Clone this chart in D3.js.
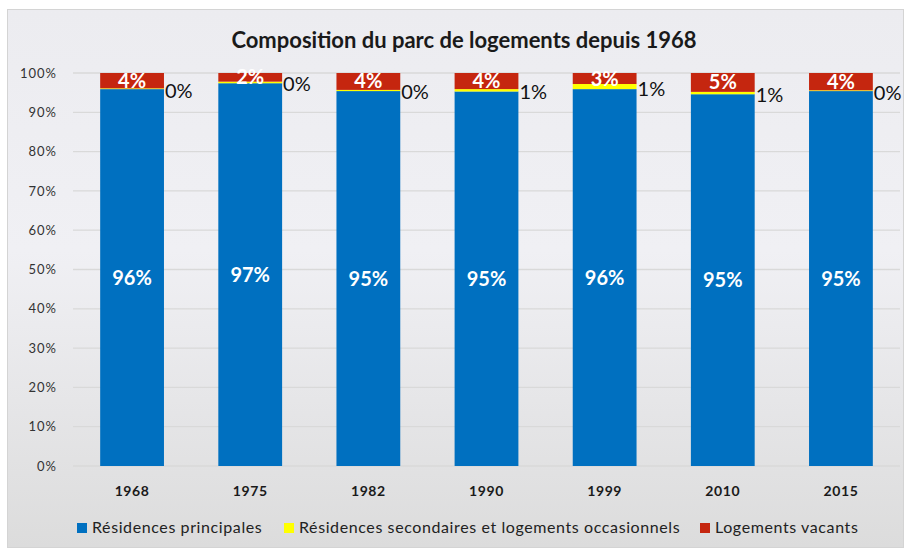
<!DOCTYPE html>
<html>
<head>
<meta charset="utf-8">
<script src="https://cdn.jsdelivr.net/npm/d3@7"></script>
<style>
  body { margin: 0; background: #fff; }
  text { font-family: Lato, "Open Sans", sans-serif; }
</style>
</head>
<body>
<div class="chart"></div>
<script>
var svgWidth = 908;
var svgHeight = 551;

// data (percent of housing stock)
var years = ["1968", "1975", "1982", "1990", "1999", "2010", "2015"];
var principales = [95.9, 97.4, 95.4, 95.3, 95.9, 94.6, 95.4];
var secondaires = [0.2, 0.4, 0.3, 0.6, 1.3, 0.6, 0.2];
var vacants = [3.9, 2.2, 4.3, 4.1, 2.8, 4.8, 4.4];
var yTicks = [0, 10, 20, 30, 40, 50, 60, 70, 80, 90, 100];
var seriesNames = ["Résidences principales", "Résidences secondaires et logements occasionnels", "Logements vacants"];
var colors = ["#0070c0", "#ffff00", "#c5260f"];

var margin = { top: 73, right: 8, bottom: 85, left: 73 };
var width = svgWidth - margin.left - margin.right;
var height = svgHeight - margin.top - margin.bottom;

var svg = d3.select(".chart")
    .append("svg")
    .attr("width", svgWidth)
    .attr("height", svgHeight);

// background gradient of the chart area
var grad = svg.append("defs").append("linearGradient")
    .attr("id", "bg").attr("x1", 0).attr("y1", 0).attr("x2", 0).attr("y2", 1);
grad.append("stop").attr("offset", "0%").attr("stop-color", "#ececf0");
grad.append("stop").attr("offset", "45%").attr("stop-color", "#f0f0f4");
grad.append("stop").attr("offset", "100%").attr("stop-color", "#dcdcdc");

svg.append("rect")
    .attr("x", 7.5).attr("y", 9.5)
    .attr("width", svgWidth - 12).attr("height", svgHeight - 13)
    .attr("fill", "url(#bg)")
    .attr("stroke", "#d4d4d4");

svg.append("text")
    .attr("x", 464).attr("y", 48)
    .attr("text-anchor", "middle")
    .attr("font-size", "22px")
    .attr("font-weight", "bold")
    .attr("fill", "#1a1a1a")
    .text("Composition du parc de logements depuis 1968");

var chart = svg.append("g")
    .attr("transform", `translate(${margin.left},${margin.top})`);

var xScale = d3.scaleBand().domain(years).range([0, width]).paddingInner(0.46).paddingOuter(0.23);
var yScale = d3.scaleLinear().domain([0, 100]).range([height, 0]);

// gridlines
chart.append("g")
    .selectAll("line")
    .data(yTicks)
    .enter()
    .append("line")
    .attr("x1", 0).attr("x2", width)
    .attr("y1", function (d) { return yScale(d); })
    .attr("y2", function (d) { return yScale(d); })
    .attr("stroke", "#d9d9d9")
    .attr("stroke-width", 1.3);

// y axis labels
var yAxis = d3.axisLeft(yScale).tickValues(yTicks).tickSize(0).tickPadding(16)
    .tickFormat(function (d) { return d + "%"; });
chart.append("g")
    .attr("class", "y-axis")
    .call(yAxis)
    .call(function (g) { g.select(".domain").remove(); })
    .selectAll("text")
    .attr("font-size", "13px")
    .attr("letter-spacing", "1px")
    .attr("fill", "#333");

// x axis labels
var xAxis = d3.axisBottom(xScale).tickSize(0).tickPadding(20);
chart.append("g")
    .attr("class", "x-axis")
    .attr("transform", `translate(0,${height})`)
    .call(xAxis)
    .call(function (g) { g.select(".domain").remove(); })
    .selectAll("text")
    .attr("font-size", "14px")
    .attr("letter-spacing", "0.6px")
    .attr("font-weight", "bold")
    .attr("fill", "#1a1a1a");

// stack the series
var rows = years.map(function (y, i) {
    return { year: y, p: principales[i], s: secondaires[i], v: vacants[i] };
});
var stack = d3.stack().keys(["p", "s", "v"])(rows);

chart.selectAll(".layer")
    .data(stack)
    .enter()
    .append("g")
    .attr("class", "layer")
    .attr("fill", function (d, i) { return colors[i]; })
    .selectAll("rect")
    .data(function (d) { return d; })
    .enter()
    .append("rect")
    .attr("x", function (d) { return xScale(d.data.year); })
    .attr("width", xScale.bandwidth())
    .attr("y", function (d) { return yScale(d[1]); })
    .attr("height", function (d) { return yScale(d[0]) - yScale(d[1]); });

// labels inside blue bars
chart.selectAll(".lab-p")
    .data(stack[0])
    .enter()
    .append("text")
    .attr("x", function (d) { return xScale(d.data.year) + xScale.bandwidth() / 2; })
    .attr("y", function (d) { return (yScale(d[0]) + yScale(d[1])) / 2 + 7; })
    .attr("text-anchor", "middle")
    .attr("font-size", "20px")
    .attr("font-weight", "bold")
    .attr("fill", "#fff")
    .text(function (d) { return Math.round(d.data.p) + "%"; });

// labels inside red caps
chart.selectAll(".lab-v")
    .data(stack[2])
    .enter()
    .append("text")
    .attr("x", function (d) { return xScale(d.data.year) + xScale.bandwidth() / 2; })
    .attr("y", function (d) { return (yScale(d[0]) + yScale(d[1])) / 2 + 7; })
    .attr("text-anchor", "middle")
    .attr("font-size", "20px")
    .attr("font-weight", "bold")
    .attr("fill", "#fff")
    .text(function (d) { return Math.round(d.data.v) + "%"; });

// labels of the thin yellow layer, right of the bars
chart.selectAll(".lab-s")
    .data(stack[1])
    .enter()
    .append("text")
    .attr("x", function (d) { return xScale(d.data.year) + xScale.bandwidth() + 1; })
    .attr("y", function (d) { return (yScale(d[0]) + yScale(d[1])) / 2 + 9; })
    .attr("font-size", "20px")
    .attr("fill", "#111")
    .text(function (d) { return Math.round(d.data.s) + "%"; });

// legend
var legendX = [77, 284, 700];
var legend = svg.append("g").selectAll("g")
    .data(seriesNames)
    .enter()
    .append("g")
    .attr("transform", function (d, i) { return `translate(${legendX[i]},523)`; });
legend.append("rect")
    .attr("width", 10).attr("height", 10)
    .attr("fill", function (d, i) { return colors[i]; });
legend.append("text")
    .attr("x", 15).attr("y", 10)
    .attr("font-size", "16px")
    .attr("letter-spacing", "0.6px")
    .attr("fill", "#222")
    .text(function (d) { return d; });
</script>
</body>
</html>
